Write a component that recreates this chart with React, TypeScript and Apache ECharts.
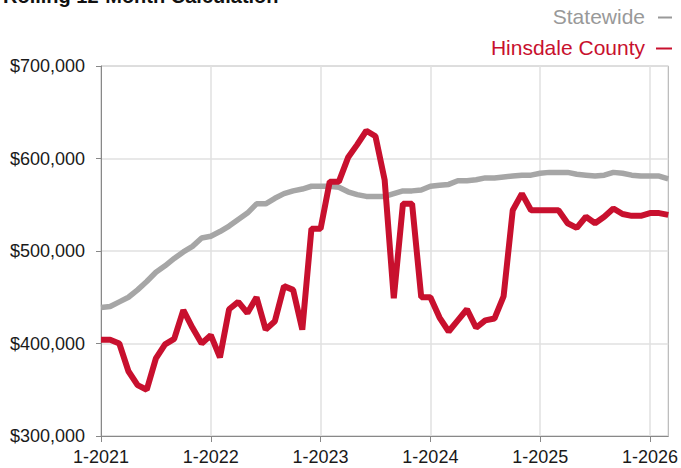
import React, { useEffect, useRef } from "react";
import * as echarts from "echarts";

const startYear = 2021;
const monthCount = 63;
const categories: string[] = Array.from({ length: monthCount }, (_, i) => `${(i % 12) + 1}-${startYear + Math.floor(i / 12)}`);

const statewide: number[] = [
  439000, 440000, 445000, 450000, 458000, 467000, 477000, 484000, 492000, 499000, 505000, 514000,
  516000, 521000, 527000, 534000, 541000, 551000, 551000, 557000, 562000, 565000, 567000, 570000,
  570000, 570000, 569000, 564000, 561000, 559000, 559000, 559000, 562000, 565000, 565000, 566000,
  570000, 571000, 572000, 576000, 576000, 577000, 579000, 579000, 580000, 581000, 582000, 582000,
  584000, 585000, 585000, 585000, 583000, 582000, 581000, 582000, 585000, 584000, 582000, 581000,
  581000, 581000, 578000,
];

const hinsdale: number[] = [
  404000, 404000, 400000, 370000, 355000, 350000, 384000, 399000, 405000, 436000, 417000, 400000,
  409000, 385000, 437000, 445000, 433000, 450000, 415000, 424000, 462000, 458000, 415000, 524000,
  524000, 575000, 575000, 601000, 615000, 630000, 624000, 577000, 449000, 551000, 551000, 450000,
  450000, 428000, 413000, 425000, 437000, 417000, 425000, 427000, 451000, 544000, 562000, 544000,
  544000, 544000, 544000, 530000, 525000, 537000, 530000, 537000, 546000, 540000, 538000, 538000,
  541000, 541000, 539000,
];

const seriesNames = ["Statewide", "Hinsdale County"];
const titleText = "Rolling 12-Month Calculation";

const RED = "#C8102E";
const GRAY = "#A6A6A6";
const FONT = "'Liberation Sans', Arial, Helvetica, sans-serif";

const fmtMoney = (v: number) => "$" + v.toString().replace(/\B(?=(\d{3})+(?!\d))/g, ",");

export default function App() {
  const ref = useRef<HTMLDivElement>(null);
  useEffect(() => {
    if (!ref.current) return;
    const chart = echarts.init(ref.current, null, { renderer: "svg" });
    const yearTick = (idx: number) => idx % 12 === 0;
    chart.setOption({
      animation: false,
      textStyle: { fontFamily: FONT },
      grid: { left: 101, right: 10, top: 66, bottom: 32, show: true, borderColor: "#aaa", borderWidth: 1, backgroundColor: "transparent" },
      graphic: [
        { type: "text", left: 3, top: -14, style: { text: titleText, fontSize: 20, fontWeight: "bold", fill: "#111", fontFamily: FONT } },
        { type: "text", right: 36, top: 6, style: { text: seriesNames[0], fontSize: 21, fill: "#999", fontFamily: FONT } },
        { type: "line", shape: { x1: 658, y1: 17.5, x2: 672, y2: 17.5 }, style: { stroke: "#999", lineWidth: 2 } },
        { type: "text", right: 36, top: 37, style: { text: seriesNames[1], fontSize: 21, fill: RED, fontFamily: FONT } },
        { type: "line", shape: { x1: 656, y1: 48.5, x2: 672, y2: 48.5 }, style: { stroke: RED, lineWidth: 2 } },
      ],
      xAxis: {
        type: "category",
        data: categories,
        boundaryGap: false,
        axisLine: { lineStyle: { color: "#888", width: 1 } },
        axisTick: { show: true, interval: (idx: number) => yearTick(idx), length: 6, lineStyle: { color: "#888" } },
        axisLabel: { interval: (idx: number) => yearTick(idx), fontSize: 18, color: "#1a1a1a", margin: 12, fontFamily: FONT, hideOverlap: false },
        splitLine: { show: true, interval: (idx: number) => yearTick(idx), lineStyle: { color: "#e0e0e0", width: 1.5 } },
      },
      yAxis: {
        type: "value",
        min: 300000,
        max: 700000,
        interval: 100000,
        axisLine: { show: true, lineStyle: { color: "#888", width: 1 } },
        axisTick: { show: true, length: 5, lineStyle: { color: "#888" } },
        axisLabel: { formatter: (v: number) => fmtMoney(v), fontSize: 18, color: "#1a1a1a", margin: 16, fontFamily: FONT },
        splitLine: { show: true, lineStyle: { color: "#e0e0e0", width: 1.5 } },
      },
      series: [
        {
          name: seriesNames[0],
          type: "line",
          data: statewide,
          symbol: "none",
          lineStyle: { color: GRAY, width: 5.5 },
          itemStyle: { color: GRAY },
        },
        {
          name: seriesNames[1],
          type: "line",
          data: hinsdale,
          symbol: "none",
          lineStyle: { color: RED, width: 6 },
          itemStyle: { color: RED },
        },
      ],
    });
    return () => chart.dispose();
  }, []);
  return <div ref={ref} style={{ position: "fixed", left: 0, top: 0, width: 681, height: 468, background: "#fff" }} />;
}
